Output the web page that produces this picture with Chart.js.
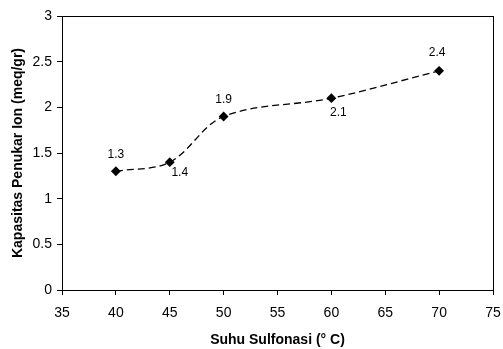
<!DOCTYPE html>
<html>
<head>
<meta charset="utf-8">
<script src="https://cdn.jsdelivr.net/npm/chart.js@4"></script>
<style>
  html, body { margin: 0; padding: 0; background: #fff; }
  #wrap { width: 503px; height: 349px; }
</style>
</head>
<body>
<div id="wrap"><canvas id="chart" width="503" height="349"></canvas></div>
<script>
// --- data ---
const suhu = [40, 45, 50, 60, 70];             // Suhu Sulfonasi (°C)
const kapasitas = [1.3, 1.4, 1.9, 2.1, 2.4];    // Kapasitas Penukar Ion (meq/gr)
const labelTexts = ['1.3', '1.4', '1.9', '2.1', '2.4'];

// label placement around each point (dx, dy in px)
const labelOffsets = [[0, -17], [10, 11], [0, -17], [7, 14], [-2, -18]];

const FONT = "'Liberation Sans', Arial, sans-serif";

// cadre autour de la zone de tracé
const frameBox = {
    id: 'frameBox',
    afterDraw(chart) {
        const { ctx, chartArea: a } = chart;
        ctx.save();
        ctx.strokeStyle = '#000';
        ctx.lineWidth = 1;
        ctx.strokeRect(Math.round(a.left) + 0.5, Math.round(a.top) + 0.5,
            Math.round(a.right - a.left), Math.round(a.bottom - a.top));
        ctx.restore();
    }
};

// étiquettes de valeur
const pointLabels = {
    id: 'pointLabels',
    afterDatasetsDraw(chart) {
        const { ctx } = chart;
        const meta = chart.getDatasetMeta(0);
        ctx.save();
        ctx.font = '12px ' + FONT;
        ctx.fillStyle = '#000';
        ctx.textAlign = 'center';
        ctx.textBaseline = 'middle';
        meta.data.forEach((pt, i) => {
            const [dx, dy] = labelOffsets[i];
            ctx.fillText(labelTexts[i], pt.x + dx, pt.y + dy);
        });
        ctx.restore();
    }
};

new Chart(document.getElementById('chart'), {
    type: 'line',
    data: {
        datasets: [{
            data: suhu.map((x, i) => ({ x, y: kapasitas[i] })),
            borderColor: '#000',
            borderWidth: 1.3,
            borderDash: [7, 4],
            tension: 0.35,
            pointStyle: 'rectRot',
            pointRadius: 4,
            pointBackgroundColor: '#000',
            pointBorderColor: '#000',
            fill: false
        }]
    },
    options: {
        responsive: false,
        animation: false,
        devicePixelRatio: 1,
        layout: { padding: { left: 0, right: 10, top: 16, bottom: 0 } },
        plugins: {
            legend: { display: false },
            tooltip: { enabled: false }
        },
        scales: {
            x: {
                type: 'linear',
                min: 35,
                max: 75,
                afterFit: s => { s.height = 59; s.paddingLeft = 0; s.paddingRight = 0; },
                border: { color: '#000', width: 1 },
                grid: { display: true, drawOnChartArea: false, drawTicks: true, tickLength: 5, color: '#000' },
                ticks: { stepSize: 5, padding: 10, color: '#000', font: { family: FONT, size: 14 } },
                title: {
                    display: true,
                    text: 'Suhu Sulfonasi (° C)',
                    color: '#000',
                    font: { family: FONT, size: 14, weight: 'bold' },
                    padding: { top: 0, bottom: 0 }
                }
            },
            y: {
                min: 0,
                max: 3,
                afterFit: s => { s.width = 62; s.paddingTop = 0; s.paddingBottom = 0; },
                border: { color: '#000', width: 1 },
                grid: { display: true, drawOnChartArea: false, drawTicks: true, tickLength: 5, color: '#000' },
                ticks: {
                    stepSize: 0.5, padding: 5, color: '#000', font: { family: FONT, size: 14 },
                    callback: v => String(v)
                },
                title: {
                    display: true,
                    text: 'Kapasitas Penukar Ion (meq/gr)',
                    color: '#000',
                    font: { family: FONT, size: 14, weight: 'bold' },
                    padding: { top: 10, bottom: 0 }
                }
            }
        }
    },
    plugins: [frameBox, pointLabels]
});
</script>
</body>
</html>
